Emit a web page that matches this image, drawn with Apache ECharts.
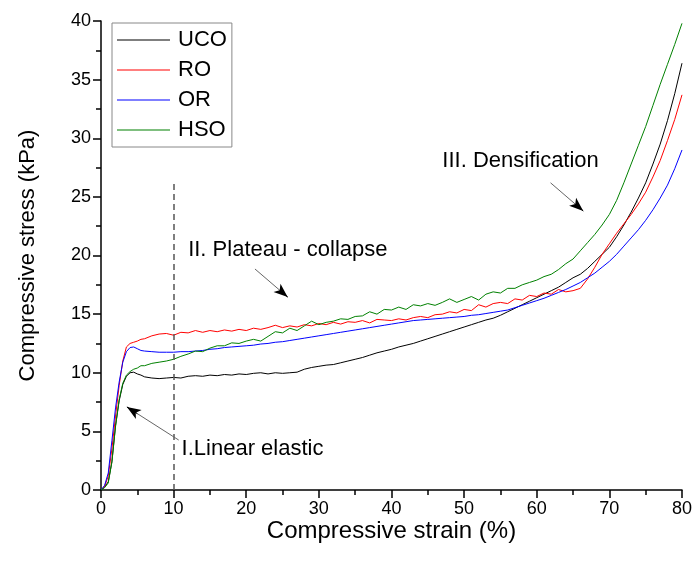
<!DOCTYPE html>
<html>
<head>
<meta charset="utf-8">
<script src="https://cdn.jsdelivr.net/npm/echarts@6/dist/echarts.min.js"></script>
<style>html,body{margin:0;padding:0;background:#fff}#c{width:695px;height:567px}</style>
</head>
<body>
<div id="c"></div>
<script>
const strain = [0,0.5,1,1.5,2,2.5,3,3.5,4,4.5,5,5.5,
 6,7,8,9,10,11,12,13,14,15,16,17,18,19,20,21,22,23,24,25,26,27,28,29,30,
 31,32,33,34,35,36,37,38,39,40,41,42,43,44,45,46,47,48,49,50,
 51,52,53,54,55,56,57,58,59,60,61,62,63,64,65,66,67,68,69,70,
 71,72,73,74,75,76,77,78,79,80];
const UCO = [0,0.25,0.7,2.4,5.5,7.6,9.0,9.7,10.0,10.05,9.9,9.8,
 9.65,9.55,9.5,9.55,9.6,9.55,9.7,9.75,9.7,9.8,9.75,9.85,9.8,9.9,9.85,9.95,10.0,9.9,10.0,9.95,10.0,10.05,10.3,10.45,10.55,
 10.65,10.7,10.85,11.0,11.15,11.3,11.5,11.7,11.85,12.0,12.2,12.35,12.5,12.7,12.9,13.1,13.3,13.5,13.7,13.9,
 14.1,14.3,14.5,14.65,14.9,15.2,15.5,15.8,16.1,16.4,16.7,17.0,17.3,17.7,18.1,18.4,18.9,19.5,20.1,20.7,
 21.6,22.6,23.7,24.9,26.2,27.8,29.5,31.5,33.8,36.4];
const RO = [0,0.3,1.2,3.5,6.3,8.9,11.0,12.2,12.5,12.6,12.7,12.85,
 12.9,13.15,13.3,13.35,13.2,13.45,13.4,13.6,13.45,13.6,13.5,13.65,13.55,13.7,13.6,13.8,13.7,13.85,14.05,13.85,14.0,13.9,14.1,14.0,14.2,
 14.1,14.3,14.15,14.35,14.3,14.45,14.25,14.55,14.5,14.45,14.6,14.5,14.7,14.8,14.7,14.95,15.0,15.2,15.1,15.4,
 15.3,15.8,15.6,15.9,16.0,15.9,16.3,16.2,16.6,16.5,16.8,16.7,17.1,16.9,17.0,17.2,18.0,19.0,20.1,21.0,
 21.9,22.7,23.5,24.4,25.4,26.7,28.1,29.8,31.6,33.7];
const OR = [0,0.4,1.45,4.2,7.0,9.2,10.9,11.8,12.15,12.2,12.05,11.9,
 11.85,11.8,11.75,11.75,11.75,11.8,11.8,11.85,11.9,12.0,12.05,12.15,12.2,12.25,12.3,12.35,12.45,12.5,12.6,12.65,12.75,12.85,12.95,13.05,13.15,
 13.25,13.35,13.45,13.55,13.65,13.75,13.85,13.95,14.05,14.15,14.25,14.35,14.45,14.5,14.55,14.6,14.65,14.7,14.75,14.8,
 14.9,14.95,15.05,15.15,15.25,15.35,15.55,15.75,15.95,16.15,16.35,16.6,16.85,17.1,17.4,17.7,18.1,18.5,19.0,19.5,
 20.1,20.8,21.5,22.2,23.0,23.9,24.9,26.0,27.4,29.0];
const HSO = [0,0.2,0.6,2.4,5.4,7.7,9.1,9.8,10.1,10.3,10.4,10.6,
 10.6,10.8,10.9,11.0,11.15,11.4,11.6,11.85,11.8,12.1,12.3,12.3,12.55,12.5,12.7,12.85,12.7,13.1,13.5,13.4,13.8,13.6,14.0,14.4,14.1,
 14.3,14.4,14.6,14.55,14.8,14.85,15.2,15.0,15.4,15.35,15.6,15.4,15.8,15.7,15.9,15.75,16.0,16.3,16.0,16.25,
 16.5,16.2,16.7,16.9,16.8,17.2,17.2,17.5,17.7,17.9,18.2,18.4,18.8,19.3,19.7,20.4,21.1,21.8,22.6,23.5,
 24.7,26.2,27.8,29.4,31.0,32.8,34.6,36.3,38.0,39.8];
const seriesNames = ['UCO','RO','OR','HSO'];
const seriesColors = ['#000000','#ff0000','#0000ff','#008000'];
const xTicks = {min:0, max:80, interval:10};
const yTicks = {min:0, max:40, interval:5};
const dividerStrain = 10;
const dividerTop = 26.4;
const annotations = [
  {text:'II. Plateau - collapse', at:[12.0,20.45]},
  {text:'III. Densification', at:[47.0,28.1]},
  {text:'I.Linear elastic', at:[11.1,3.5]}
];
const arrows = [
  [[21.2,18.85],[25.7,16.46]],
  [[61.9,26.2],[66.4,23.8]],
  [[10.7,4.26],[3.57,7.08]]
];

const FONT = 'Liberation Sans, Arial, sans-serif';
const values = [UCO, RO, OR, HSO];
const series = seriesNames.map((name, i) => ({
  name, type:'line', showSymbol:false, symbol:'none', smooth:false,
  data: strain.map((x, j) => [x, values[i][j]]),
  lineStyle:{color:seriesColors[i], width:1},
  itemStyle:{color:seriesColors[i]},
  z: 3, animation:false
}));
const near = (a, f) => [a[0][0] + (a[1][0]-a[0][0])*f, a[0][1] + (a[1][1]-a[0][1])*f];
series.push({
  name:'_ann', type:'line', data:[], animation:false,
  markLine:{
    silent:true, animation:false,
    label:{show:false},
    data:[
      [{coord:[dividerStrain,0], symbol:'none', lineStyle:{color:'#555', width:1.5, type:[6,4]}},
       {coord:[dividerStrain,dividerTop], symbol:'none'}],
      ...arrows.map(a => [
        {coord:a[0], symbol:'none', lineStyle:{color:'#666', width:1, type:'solid'}},
        {coord:a[1], symbol:'none'}
      ]),
      ...arrows.map(a => [
        {coord:near(a,0.8), symbol:'none', lineStyle:{color:'#000', width:1, type:'solid'}},
        {coord:a[1], symbol:'arrow', symbolSize:[8,14]}
      ])
    ]
  },
  markPoint:{
    silent:true, animation:false,
    symbol:'circle', symbolSize:0,
    data: annotations.map(a => ({
      coord:a.at, value:a.text,
      label:{show:true, position:'right', distance:0, formatter:a.text, color:'#000', fontSize:22, fontFamily:FONT}
    }))
  }
});

const chart = echarts.init(document.getElementById('c'), null, {renderer:'canvas'});
chart.setOption({
  animation:false,
  backgroundColor:'#fff',
  grid:{left:101, right:12, top:21, bottom:77},
  legend:{
    data:seriesNames, orient:'vertical', left:112, top:23,
    icon:'rect', itemWidth:53, itemHeight:1, itemGap:8,
    padding:[6,5,6,5], borderColor:'#888', borderWidth:1,
    textStyle:{fontSize:22, color:'#000', fontFamily:FONT, padding:[0,0,0,3]}
  },
  xAxis:{
    type:'value', min:xTicks.min, max:xTicks.max, interval:xTicks.interval,
    name:'Compressive strain (%)', nameLocation:'middle', nameGap:29, nameMoveOverlap:false,
    nameTextStyle:{fontSize:24, color:'#000', fontFamily:FONT},
    axisLine:{show:true, onZero:false, lineStyle:{color:'#000', width:1.5}},
    axisTick:{show:true, inside:false, length:8, lineStyle:{color:'#000', width:1.5}},
    minorTick:{show:true, splitNumber:2, length:5, lineStyle:{color:'#000', width:1.5}},
    axisLabel:{fontSize:18, color:'#000', fontFamily:FONT, margin:10},
    splitLine:{show:false}
  },
  yAxis:{
    type:'value', min:yTicks.min, max:yTicks.max, interval:yTicks.interval,
    name:'Compressive stress (kPa)', nameLocation:'middle', nameGap:62, nameMoveOverlap:false,
    nameTextStyle:{fontSize:22, color:'#000', fontFamily:FONT},
    axisLine:{show:true, onZero:false, lineStyle:{color:'#000', width:1.5}},
    axisTick:{show:true, inside:false, length:8, lineStyle:{color:'#000', width:1.5}},
    minorTick:{show:true, splitNumber:2, length:5, lineStyle:{color:'#000', width:1.5}},
    axisLabel:{fontSize:18, color:'#000', fontFamily:FONT, margin:10},
    splitLine:{show:false}
  },
  series
});
</script>
</body>
</html>
